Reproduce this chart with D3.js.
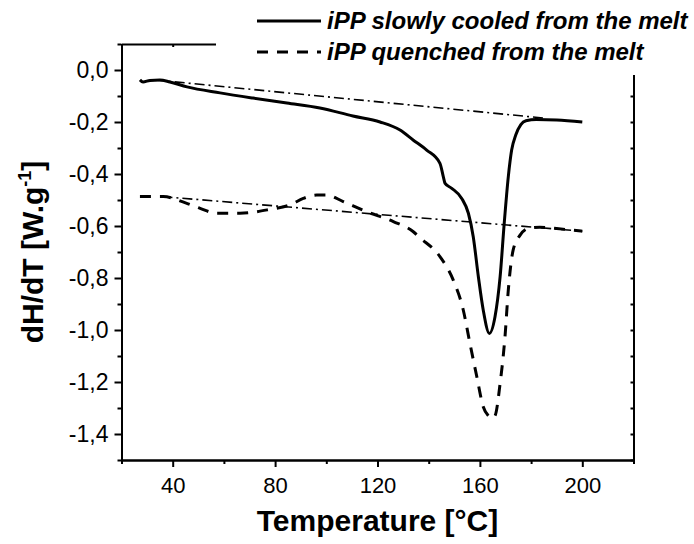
<!DOCTYPE html>
<html><head><meta charset="utf-8">
<script src="https://cdn.jsdelivr.net/npm/d3@7"></script>
<style>body{margin:0;background:#fff}svg{display:block}text{font-family:"Liberation Sans",Arial,sans-serif}</style>
</head><body>
<script>
// Data
const slowT = [27.2, 28.4, 31.1, 35, 38.9, 45.6, 58.5, 71.4, 84.6, 97.5, 110.4, 121, 128.8, 133.9, 139.2, 144.4, 145.7, 146.4, 149, 152.9, 155.5, 157.4, 159.4, 161.3, 163.7, 165.9, 167.9, 169.5, 171.1, 172.4, 174, 176, 178, 182, 190, 200];
const slowV = [-0.038, -0.046, -0.04, -0.038, -0.046, -0.065, -0.088, -0.108, -0.127, -0.146, -0.177, -0.2, -0.231, -0.269, -0.308, -0.359, -0.41, -0.436, -0.455, -0.494, -0.551, -0.641, -0.795, -0.923, -1.013, -0.949, -0.795, -0.59, -0.41, -0.308, -0.25, -0.21, -0.195, -0.19, -0.192, -0.2];
const quenchT = [27.2, 36.3, 45.5, 50.7, 57.2, 66.3, 78, 85.8, 91, 96.3, 100.2, 106.6, 115.8, 126.2, 134, 136.6, 144.4, 149.6, 153.5, 156.1, 158.8, 161.3, 163.3, 164.6, 165.9, 167.9, 169.8, 171.1, 173, 175.7, 178.9, 183.4, 190, 200];
const quenchV = [-0.487, -0.487, -0.513, -0.532, -0.551, -0.551, -0.536, -0.519, -0.494, -0.481, -0.481, -0.506, -0.545, -0.583, -0.622, -0.645, -0.718, -0.808, -0.923, -1.051, -1.18, -1.295, -1.33, -1.34, -1.33, -1.205, -1.026, -0.846, -0.692, -0.635, -0.609, -0.605, -0.61, -0.62];
const base1T = [33, 185], base1V = [-0.038, -0.185];
const base2T = [36, 200], base2V = [-0.487, -0.62];
const xTicks = [40, 80, 120, 160, 200];
const xMinor = [20, 60, 100, 140, 180, 220];
const yTicks = [0, -0.2, -0.4, -0.6, -0.8, -1.0, -1.2, -1.4];
const yMinor = [0.1, -0.1, -0.3, -0.5, -0.7, -0.9, -1.1, -1.3, -1.5];
const legendLabels = ["iPP slowly cooled from the melt", "iPP quenched from the melt"];

const W = 694, H = 544;
const L = 121.5, R = 633.5, T = 44, B = 460;
const svg = d3.select("body").append("svg").attr("width", W).attr("height", H);
const x = d3.scaleLinear().domain([20, 220]).range([L, R]);
const y = d3.scaleLinear().domain([-1.5, 0.1]).range([B, T]);
const fmt = v => d3.format(".1f")(v).replace(".", ",").replace("−", "-");

const line = d3.line().x(d => x(d[0])).y(d => y(d[1])).curve(d3.curveMonotoneX);
const zip = (a, b) => a.map((v, i) => [v, b[i]]);

// curves
svg.append("path").datum(zip(base1T, base1V)).attr("d", line).attr("fill", "none")
  .attr("stroke", "#000").attr("stroke-width", 1.6).attr("stroke-dasharray", "10,4,2,4");
svg.append("path").datum(zip(base2T, base2V)).attr("d", line).attr("fill", "none")
  .attr("stroke", "#000").attr("stroke-width", 1.6).attr("stroke-dasharray", "10,4,2,4");
svg.append("path").datum(zip(slowT, slowV)).attr("d", line).attr("fill", "none")
  .attr("stroke", "#000").attr("stroke-width", 3);
svg.append("path").datum(zip(quenchT, quenchV)).attr("d", line).attr("fill", "none")
  .attr("stroke", "#000").attr("stroke-width", 3).attr("stroke-dasharray", "11,9");

// axes
const axB = svg.append("g").attr("transform", `translate(0,${B})`)
  .call(d3.axisBottom(x).tickValues(xTicks).tickSize(7).tickSizeOuter(0).tickFormat(d3.format("d")));
svg.append("g").attr("transform", `translate(0,${B})`)
  .call(d3.axisBottom(x).tickValues(xMinor).tickSize(4).tickSizeOuter(0).tickFormat(""));
const axL = svg.append("g").attr("transform", `translate(${L},0)`)
  .call(d3.axisLeft(y).tickValues(yTicks).tickSize(7).tickSizeOuter(0).tickFormat(fmt));
svg.append("g").attr("transform", `translate(${L},0)`)
  .call(d3.axisLeft(y).tickValues(yMinor).tickSize(4).tickSizeOuter(0).tickFormat(""));
svg.append("g").attr("transform", `translate(${R},0)`)
  .call(d3.axisLeft(y).tickValues(yTicks.concat(yMinor)).tickSize(3).tickSizeOuter(0).tickFormat(""));
svg.append("g").attr("transform", `translate(0,${T})`)
  .call(d3.axisBottom(x).tickValues(xTicks.concat(xMinor)).tickSize(3).tickSizeOuter(0).tickFormat(""));

svg.selectAll(".domain").attr("stroke", "#000").attr("stroke-width", 2);
svg.selectAll(".tick line").attr("stroke", "#000").attr("stroke-width", 2);
axB.selectAll(".tick text").attr("font-size", 22).attr("y", 17).attr("dy", "0.71em").attr("fill", "#000");
axL.selectAll(".tick text").attr("font-size", 23).attr("x", -13).attr("fill", "#000");

// titles
svg.append("text").attr("x", (L + R) / 2).attr("y", 531).attr("text-anchor", "middle")
  .attr("font-size", 30).attr("font-weight", "bold").text("Temperature [°C]");
const yt = svg.append("text").attr("transform", `translate(43,${252}) rotate(-90)`)
  .attr("text-anchor", "middle").attr("font-size", 30).attr("font-weight", "bold");
yt.append("tspan").text("dH/dT [W.g");
yt.append("tspan").attr("font-size", 18).attr("dy", -12).text("-1");
yt.append("tspan").attr("dy", 12).text("]");

// legend
svg.append("rect").attr("x", 216).attr("y", 0).attr("width", W - 216).attr("height", 75).attr("fill", "#fff");
const lg = svg.append("g");
legendLabels.forEach((lab, i) => {
  const yy = 21 + i * 31;
  lg.append("line").attr("x1", 257).attr("x2", 321).attr("y1", yy).attr("y2", yy)
    .attr("stroke", "#000").attr("stroke-width", 3).attr("stroke-dasharray", i ? "11,9" : null);
  lg.append("text").attr("x", 327).attr("y", yy + 8).attr("font-size", 24)
    .attr("font-weight", "bold").attr("font-style", "italic").text(lab);
});
</script>
</body></html>
